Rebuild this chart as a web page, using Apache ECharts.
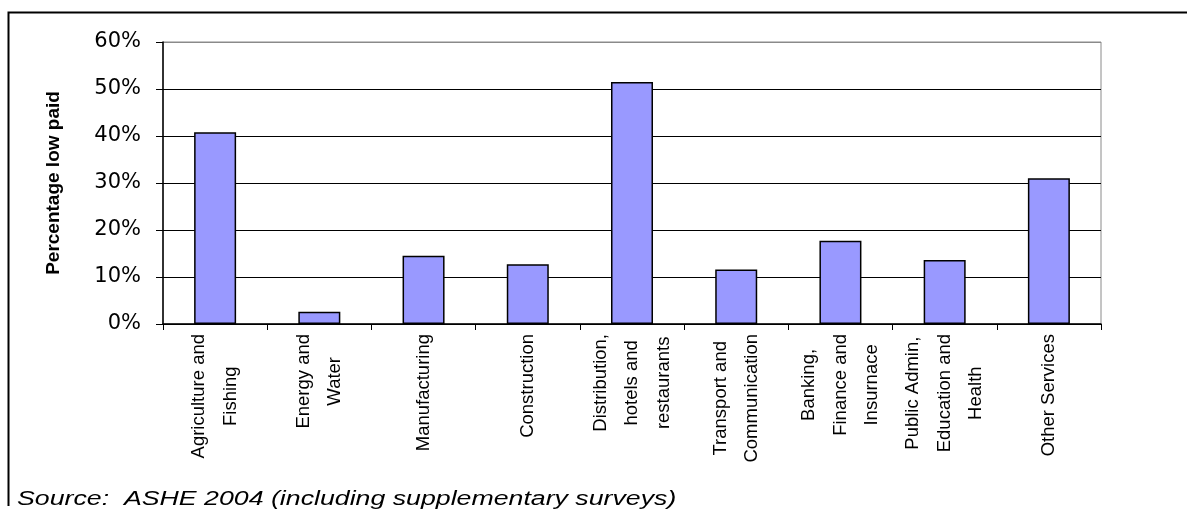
<!DOCTYPE html>
<html>
<head>
<meta charset="utf-8">
<script src="https://cdn.jsdelivr.net/npm/echarts@6/dist/echarts.min.js"></script>
<style>
  html, body { margin: 0; padding: 0; background: #ffffff; }
  #chart { width: 1187px; height: 513px; }
</style>
</head>
<body>
<div id="chart"></div>
<script>
// Industry sectors (line breaks follow the wrapped axis labels)
const sectors = [
  'Agriculture and\nFishing',
  'Energy and\nWater',
  'Manufacturing',
  'Construction',
  'Distribution,\nhotels and\nrestaurants',
  'Transport and\nCommunication',
  'Banking,\nFinance and\nInsurnace',
  'Public Admin,\nEducation and\nHealth',
  'Other Services'
];

// Share of employees who are low paid, per cent
const lowPaidShare = [40.8, 2.6, 14.5, 12.7, 51.5, 11.6, 17.7, 13.6, 31.0];

// Value-axis settings
const yMin = 0;
const yMax = 60;
const yStep = 10;

const yTitle = 'Percentage low paid';
const sourceNote = 'Source:  ASHE 2004 (including supplementary surveys)';

const chart = echarts.init(document.getElementById('chart'), null, { renderer: 'canvas' });

chart.setOption({
  backgroundColor: '#ffffff',
  animation: false,
  grid: {
    left: 163,
    top: 42,
    right: 86,
    bottom: 189,
    show: true,
    borderColor: '#8a8a8a',
    borderWidth: 1,
    backgroundColor: 'transparent'
  },
  xAxis: {
    type: 'category',
    data: sectors,
    boundaryGap: true,
    axisLine: { lineStyle: { color: '#000', width: 1.5 } },
    axisTick: { show: true, length: 6, lineStyle: { color: '#000', width: 1 } },
    axisLabel: {
      interval: 0,
      rotate: 90,
      margin: 10,
      formatter: function (v) {
        return v.split('\n').map(function (l) { return '{c|' + l + '}'; }).join('\n');
      },
      rich: {
        c: {
          align: 'center',
          fontFamily: 'Liberation Sans, Arial, sans-serif',
          fontSize: 18.5,
          lineHeight: 31.5,
          color: '#000'
        }
      }
    }
  },
  yAxis: {
    type: 'value',
    min: yMin,
    max: yMax,
    interval: yStep,
    name: yTitle,
    nameLocation: 'middle',
    nameGap: 100,
    nameRotate: 90,
    nameTextStyle: {
      fontFamily: 'Liberation Sans, Arial, sans-serif',
      fontWeight: 'bold',
      fontSize: 19,
      color: '#000'
    },
    axisLine: { show: true, lineStyle: { color: '#000', width: 1.5 } },
    axisTick: { show: true, length: 7, lineStyle: { color: '#000', width: 1 } },
    axisLabel: {
      margin: 22,
      formatter: '{value}%',
      fontFamily: 'DejaVu Sans, sans-serif',
      fontSize: 21,
      color: '#000'
    },
    splitLine: {
      show: true,
      lineStyle: {
        color: ['#000', '#000', '#000', '#000', '#000', '#000', '#8a8a8a'],
        width: 1
      }
    }
  },
  series: [{
    type: 'bar',
    data: lowPaidShare,
    barWidth: 42,
    itemStyle: {
      color: '#9999ff',
      borderColor: '#000',
      borderWidth: 1.5
    }
  }],
  graphic: [
    {
      // outer frame (top and left edges)
      type: 'polyline',
      silent: true,
      shape: { points: [[8.5, 506], [8.5, 12.5], [1187, 12.5]] },
      style: { stroke: '#000', lineWidth: 2, fill: null }
    },
    {
      type: 'text',
      left: 17,
      top: 490,
      scaleX: 1.37,
      style: {
        text: sourceNote,
        fontFamily: 'Liberation Sans, Arial, sans-serif',
        fontStyle: 'italic',
        fontSize: 19.5,
        fill: '#000'
      }
    }
  ]
});
</script>
</body>
</html>
